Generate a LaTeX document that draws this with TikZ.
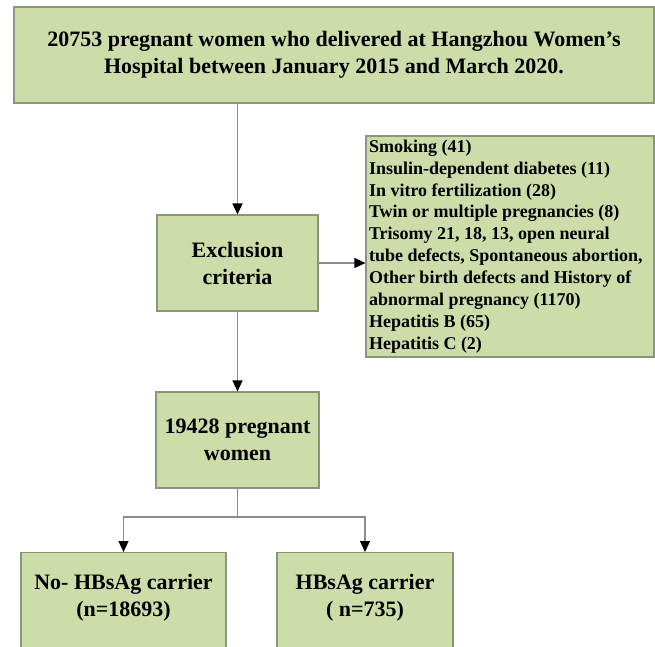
\documentclass[tikz,border=0pt]{standalone}
\usepackage{fontspec}
\setmainfont{Liberation Serif}
\usetikzlibrary{arrows.meta}
\definecolor{boxfill}{HTML}{CEDCAA}
\definecolor{boxline}{HTML}{8A957A}
\definecolor{conncol}{HTML}{8C8C8C}
\begin{document}
\begin{tikzpicture}[x=1pt,y=-1pt,
  box/.style={draw=boxline, line width=1.1pt, fill=boxfill, inner sep=0pt, align=center,
    font=\bfseries\fontsize{22}{27}\selectfont},
  boxtext/.style={inner sep=0pt, align=center, font=\bfseries\fontsize{22}{27}\selectfont},
  conn/.style={draw=conncol, line width=1.2pt, -{Triangle[color=black,length=11pt,width=10pt]}}]
\useasboundingbox (0,0) rectangle (655,646);
\clip (0,0) rectangle (655,646);
\node[box, minimum width=640, minimum height=96] (top) at (334,55)
  {20753 pregnant women who delivered at Hangzhou Women’s\\Hospital between January 2015 and March 2020.};
\node[box, minimum width=161, minimum height=96] (excl) at (237.5,263) {Exclusion\\criteria};
\node[box, minimum width=288, minimum height=221, inner xsep=3, text width=282, align=flush left,
  font=\bfseries\fontsize{18}{21.9}\selectfont] (list) at (510,246.5)
  {Smoking (41)\\
   Insulin-dependent diabetes (11)\\
   In vitro fertilization (28)\\
   Twin or multiple pregnancies (8)\\
   Trisomy 21, 18, 13, open neural\\
   tube defects, Spontaneous abortion,\\
   Other birth defects and History of\\
   abnormal pregnancy (1170)\\
   Hepatitis B (65)\\
   Hepatitis C (2)};
\node[box, minimum width=163, minimum height=96] (mid) at (237.5,440) {19428 pregnant\\women};
\node[box, minimum width=205, minimum height=130, anchor=north] (left) at (123.5,552) {};
\node[box, minimum width=176, minimum height=130, anchor=north] (right) at (365,552) {};
\node[boxtext] (lefttext) at (123.5,598) {No- HBsAg carrier\\(n=18693)};
\node[boxtext] (righttext) at (365,598) {HBsAg carrier\\( n=735)};
\coordinate (split) at (237.5,517);
\draw[conn] (top.south -| excl.north) -- (excl.north);
\draw[conn] (excl.east) -- (excl.east -| list.west);
\draw[conn] (excl.south) -- (mid.north);
\draw[draw=conncol, line width=1.2pt] (mid.south) -- (split);
\draw[conn] (split) -| (left.north);
\draw[conn] (split) -| (right.north);
\end{tikzpicture}
\end{document}
